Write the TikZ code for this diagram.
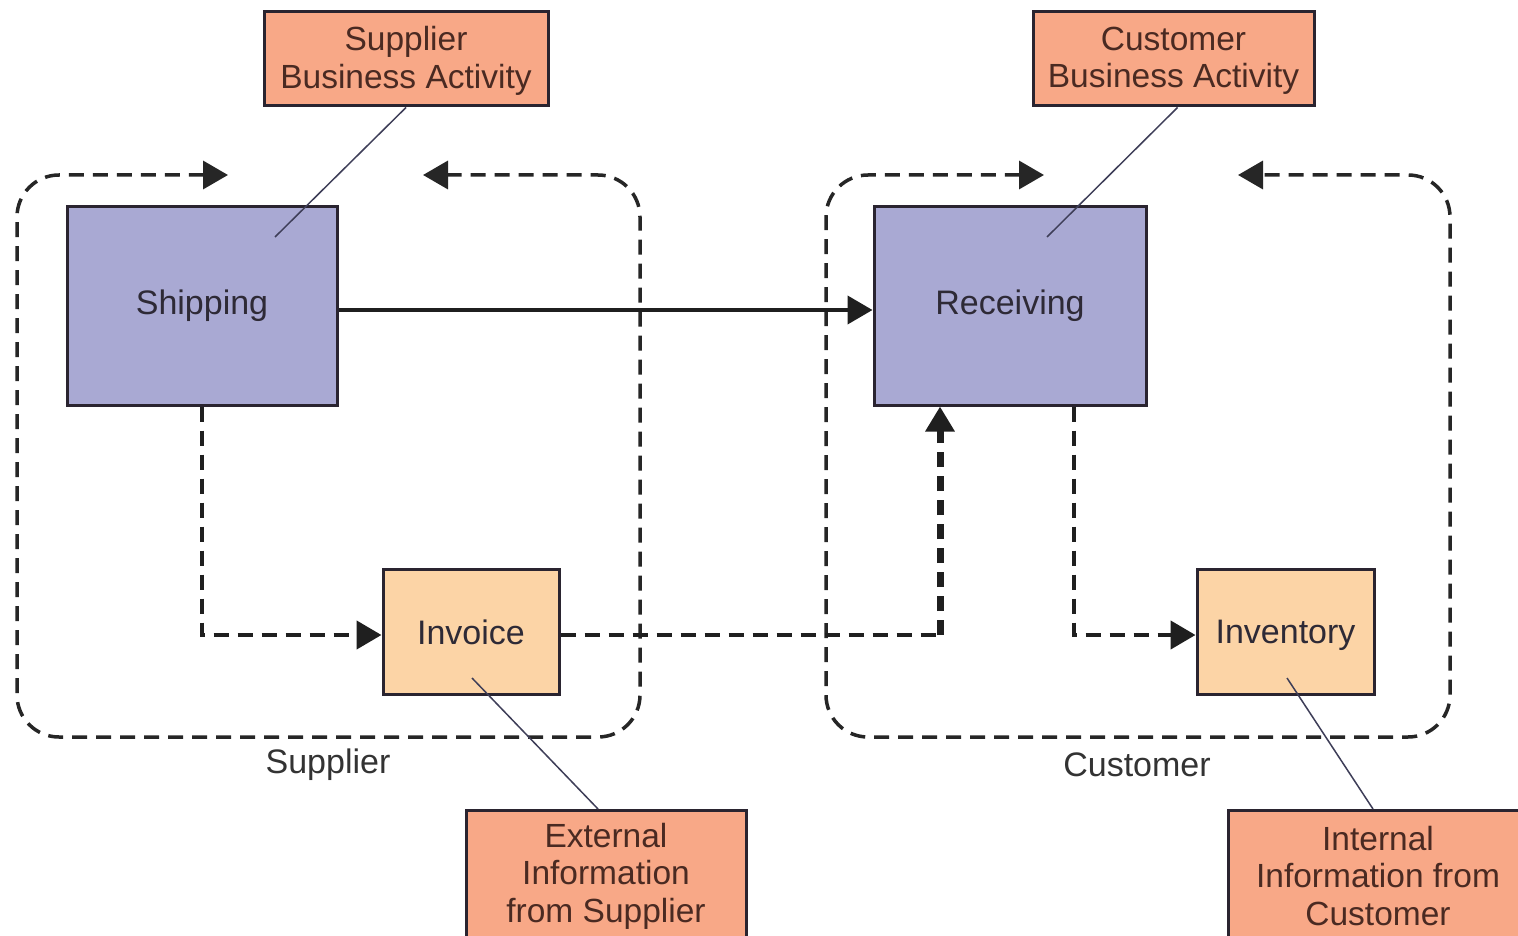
\documentclass[tikz,border=0pt]{standalone}
\usepackage{fontspec}
\setmainfont{Liberation Sans}
\usetikzlibrary{arrows.meta,calc}
\definecolor{purp}{HTML}{A9A9D3}
\definecolor{salmon}{HTML}{F8A887}
\definecolor{peach}{HTML}{FCD4A6}
\definecolor{edge}{HTML}{2A2430}
\definecolor{txt}{HTML}{2E2A36}
\definecolor{btxt}{HTML}{4A2A22}
\definecolor{thin}{HTML}{3E3E58}
\tikzset{
  tip/.tip={Triangle[length=25pt,width=28pt]},
  pbox/.style={draw=edge, line width=3, fill=purp, text=txt, font=\fontsize{34}{38}\selectfont},
  ybox/.style={draw=edge, line width=3, fill=peach, text=txt, text depth=0pt, font=\fontsize{34}{38}\selectfont},
  obox/.style={draw=edge, line width=3, fill=salmon},
  otext/.style={text=btxt, align=center, font=\fontsize{33.5}{37.5}\selectfont, inner sep=0},
  dline/.style={draw=black!88, line width=4.5, dash pattern=on 15pt off 9pt},
  region/.style={draw=black!85, line width=3.5, dash pattern=on 15pt off 9pt, rounded corners=42},
  callout/.style={draw=thin, line width=1.5},
  lbl/.style={text=black!80, font=\fontsize{34}{38}\selectfont}
}
\begin{document}
\begin{tikzpicture}[x=1pt,y=-1pt]
\useasboundingbox (0,0) rectangle (1518,936);
\clip (0,0) rectangle (1518,936);
\fill[white] (0,0) rectangle (1518,936);

% regions
\draw[region, tip-tip] (228,175) -- (17,175) -- (17,737) -- (640,737) -- (640,175) -- (423,175);
\draw[region, tip-tip] (1044,175) -- (826,175) -- (826,737) -- (1450,737) -- (1450,175) -- (1238,175);

% main boxes
\node[pbox, minimum width=270, minimum height=198] (ship) at (202,306) {Shipping};
\node[pbox, minimum width=272, minimum height=198] (rec) at (1010,306) {Receiving};
\node[ybox, minimum width=176, minimum height=125] (inv) at (471,632) {Invoice};
\node[ybox, minimum width=177, minimum height=125] (invt) at (1285.5,632) {Inventory};

% annotation boxes
\node[obox, minimum width=284, minimum height=94] (sba) at (406,59) {};
\node[otext] at (406,61) {Supplier\\Business Activity};
\node[obox, minimum width=281, minimum height=94] (cba) at (1173.5,59) {};
\node[otext] at (1173.5,61) {Customer\\Business Activity};
\node[obox, anchor=north, minimum width=280, minimum height=160] (ext) at (606,809) {};
\node[otext] at (606,876) {External\\Information\\from Supplier};
\node[obox, anchor=north, minimum width=302, minimum height=160] (int) at (1379,809) {};
\node[otext] at (1378,876) {Internal\\Information from\\Customer};

% region labels
\node[lbl] (slbl) at (328,765) {Supplier};
\node[lbl] (clbl) at (1137,765) {Customer};

% connectors
\draw[line width=4, draw=black!88, -tip] ($(ship.east)+(0,4)$) -- ($(rec.west)+(0,4)$);
\draw[dline, -tip] (ship.south) |- ($(inv.west)+(0,3)$);
\coordinate (c1) at (940,635);
\draw[dline] ($(inv.east)+(0,3)$) -- (c1);
\draw[dline, line width=7, -tip] (c1) -- (c1 |- rec.south);
\coordinate (c2) at ($(rec.south)+(64,0)$);
\draw[dline, -tip] (c2) |- ($(invt.west)+(0,3)$);

% callout lines
\draw[callout] (sba.south) -- ($(ship.center)+(73,-69)$);
\draw[callout] ($(cba.south)+(4,0)$) -- ($(rec.center)+(37,-69)$);
\draw[callout] ($(inv.center)+(1,46)$) -- ($(ext.north)+(-8,0)$);
\draw[callout] ($(invt.center)+(1.5,46)$) -- ($(int.north)+(-6,0)$);
\end{tikzpicture}
\end{document}
